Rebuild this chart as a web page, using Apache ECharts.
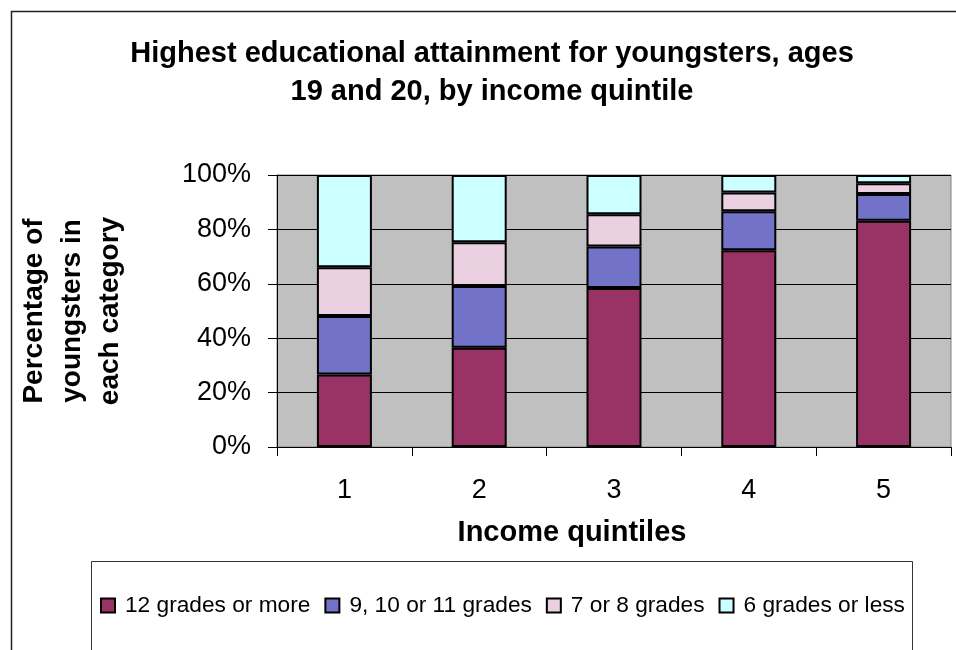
<!DOCTYPE html>
<html>
<head>
<meta charset="utf-8">
<script src="https://cdn.jsdelivr.net/npm/echarts@6/dist/echarts.min.js"></script>
<style>
html,body{margin:0;padding:0;background:#fff;}
#chart{width:956px;height:650px;}
</style>
</head>
<body>
<div id="chart"></div>
<script>
const categories = ['1', '2', '3', '4', '5'];
const seriesNames = ['12 grades or more', '9, 10 or 11 grades', '7 or 8 grades', '6 grades or less'];
const grades12plus = [26.7, 36.5, 58.5, 72.3, 83.2];
const grades9to11 = [21.5, 22.7, 15.2, 14.4, 9.8];
const grades7to8 = [17.9, 16.1, 11.9, 6.9, 4.0];
const grades6less = [33.9, 24.7, 14.4, 6.4, 3.0];
const yTicks = [0, 20, 40, 60, 80, 100];

const colors = ['#993366', '#7272C8', '#EAD0E0', '#CCFFFF'];
const seriesData = [grades12plus, grades9to11, grades7to8, grades6less];
const FONT = '"Liberation Sans", Arial, sans-serif';

const chart = echarts.init(document.getElementById('chart'), null, {renderer: 'canvas'});
chart.setOption({
  animation: false,
  backgroundColor: '#fff',
  textStyle: {fontFamily: FONT},
  title: {
    text: 'Highest educational attainment for youngsters, ages\n19 and 20, by income quintile',
    left: 492,
    top: 35,
    textAlign: 'center',
    padding: 0,
    textStyle: {fontFamily: FONT, fontSize: 29, fontWeight: 'bold', color: '#000', lineHeight: 38}
  },
  graphic: [
    {type: 'rect', shape: {x: 11.5, y: 11.5, width: 1200, height: 1200}, style: {fill: null, stroke: '#222', lineWidth: 1.5}, silent: true, z: -10},
    {type: 'rect', shape: {x: 91.5, y: 561.5, width: 821, height: 200}, style: {fill: null, stroke: '#333', lineWidth: 1}, silent: true, z: -10}
  ],
  legend: {
    data: seriesNames,
    left: 100,
    top: 594,
    padding: 0,
    itemWidth: 14,
    itemHeight: 14,
    itemGap: 14,
    icon: 'rect',
    textStyle: {fontFamily: FONT, fontSize: 22.7, color: '#000', padding: [0, 0, 0, 5]}
  },
  grid: {
    left: 277, right: 5, top: 175, bottom: 203,
    outerBoundsMode: 'none',
    containLabel: false,
    show: true, backgroundColor: '#C0C0C0', borderColor: '#808080', borderWidth: 1
  },
  xAxis: {
    type: 'category',
    data: categories,
    name: 'Income quintiles',
    nameLocation: 'middle',
    nameGap: 71,
    nameTextStyle: {fontFamily: FONT, fontSize: 29, fontWeight: 'bold', color: '#000', verticalAlign: 'top', padding: [0, 84, 0, 0]},
    axisLine: {lineStyle: {color: '#000', width: 1}},
    axisTick: {show: true, length: 9, lineStyle: {color: '#000'}},
    axisLabel: {fontFamily: FONT, fontSize: 27, color: '#000', margin: 30}
  },
  yAxis: {
    type: 'value',
    min: 0, max: 100, interval: 20,
    name: 'Percentage of\nyoungsters in\neach category',
    nameLocation: 'middle',
    nameRotate: 90,
    nameGap: 148,
    nameTextStyle: {fontFamily: FONT, fontSize: 28, fontWeight: 'bold', color: '#000', lineHeight: 38, align: 'center'},
    axisLine: {show: true, lineStyle: {color: '#000', width: 1}},
    axisTick: {show: true, length: 9, lineStyle: {color: '#000'}},
    splitLine: {show: true, lineStyle: {color: '#000', width: 1}},
    axisLabel: {fontFamily: FONT, fontSize: 27, color: '#000', margin: 26, formatter: v => yTicks.includes(v) ? v + '%' : ''}
  },
  series: seriesNames.map((name, i) => ({
    name: name,
    type: 'bar',
    stack: 'total',
    data: seriesData[i],
    barWidth: 55,
    itemStyle: {color: colors[i], borderColor: '#000', borderWidth: 2}
  }))
});
</script>
</body>
</html>
